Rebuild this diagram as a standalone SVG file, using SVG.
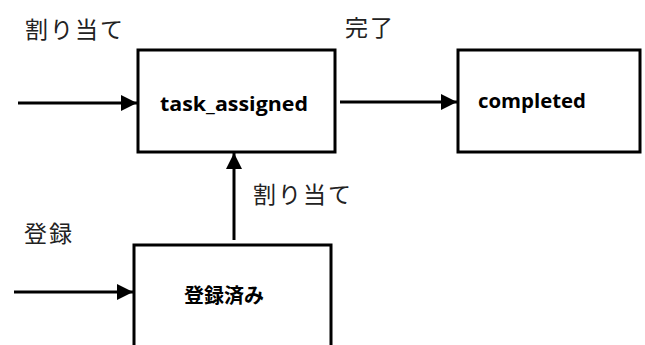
<svg xmlns="http://www.w3.org/2000/svg" width="645" height="345" viewBox="0 0 645 345">
<style>
.box{fill:#fff;stroke:#000;stroke-width:3}
.edge{stroke:#000;stroke-width:3;fill:none}
.lbl{font-family:"Noto Sans CJK JP","Noto Sans",sans-serif;font-size:23px;fill:#222;letter-spacing:2px}
.nlbl{font-family:"Open Sans","Noto Sans CJK JP",sans-serif;font-size:19px;font-weight:bold;fill:#000}
.jlbl{font-family:"Noto Sans CJK JP",sans-serif;font-size:20px;font-weight:bold;fill:#000}
</style>
<defs>
<marker id="ah" markerWidth="16" markerHeight="16" refX="16" refY="8" orient="auto" markerUnits="userSpaceOnUse">
<path d="M0,0 L16,8 L0,16 Z" fill="#000"/>
</marker>
</defs>
<g id="node-task_assigned">
<rect class="box" x="138" y="50" width="197" height="102"/>
<text class="nlbl" x="160" y="111" textLength="148" lengthAdjust="spacingAndGlyphs">task_assigned</text>
</g>
<g id="node-completed">
<rect class="box" x="458" y="50" width="182" height="102"/>
<text class="nlbl" x="478" y="108" textLength="108" lengthAdjust="spacingAndGlyphs">completed</text>
</g>
<g id="node-registered">
<rect class="box" x="134" y="245" width="197" height="110"/>
<text class="jlbl" x="184" y="303">登録済み</text>
</g>
<g id="connectors">
<line class="edge" x1="18" y1="103" x2="137" y2="103" marker-end="url(#ah)"/>
<line class="edge" x1="340" y1="102" x2="457" y2="102" marker-end="url(#ah)"/>
<line class="edge" x1="234" y1="240" x2="234" y2="153" marker-end="url(#ah)"/>
<line class="edge" x1="14" y1="292" x2="133" y2="292" marker-end="url(#ah)"/>
<text class="lbl" x="25" y="38">割り当て</text>
<text class="lbl" x="345" y="36">完了</text>
<text class="lbl" x="253" y="203">割り当て</text>
<text class="lbl" x="24" y="242">登録</text>
</g>
</svg>
